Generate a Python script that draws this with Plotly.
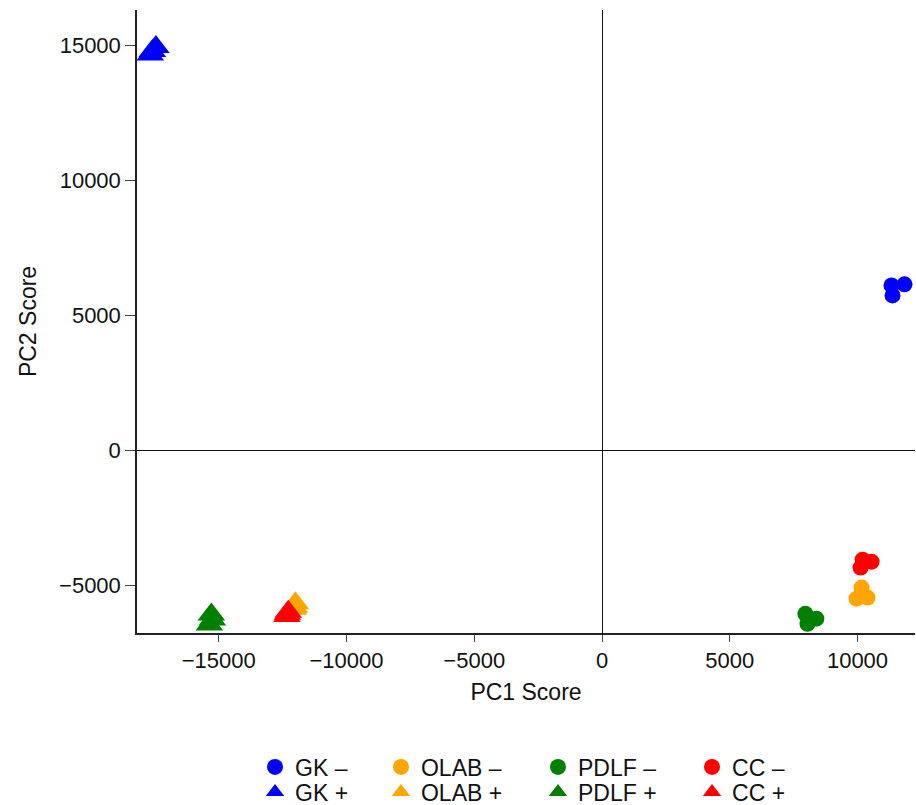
import plotly.graph_objects as go

# ---- data ----
groups = ["GK", "OLAB", "PDLF", "CC"]
colors = ["#0000ff", "#ffa500", "#008000", "#ff0000"]

minus_x = {
    "GK":   [11330, 11840, 11370],
    "OLAB": [10160, 9960, 10390],
    "PDLF": [7960, 8390, 8040],
    "CC":   [10200, 10550, 10120],
}
minus_y = {
    "GK":   [6110, 6150, 5740],
    "OLAB": [-5070, -5480, -5440],
    "PDLF": [-6040, -6220, -6410],
    "CC":   [-4040, -4110, -4330],
}
plus_x = {
    "GK":   [-17680, -17460, -17600],
    "OLAB": [-12040, -12000, -12080],
    "PDLF": [-15290, -15370, -15250],
    "CC":   [-12310, -12330, -12280],
}
plus_y = {
    "GK":   [14650, 14930, 14780],
    "OLAB": [-5780, -5650, -5850],
    "PDLF": [-6070, -6440, -6250],
    "CC":   [-6040, -6120, -5960],
}

x_ticks = [-15000, -10000, -5000, 0, 5000, 10000]
x_tick_labels = ["\u221215000", "\u221210000", "\u22125000", "0", "5000", "10000"]
y_ticks = [-5000, 0, 5000, 10000, 15000]
y_tick_labels = ["\u22125000", "0", "5000", "10000", "15000"]
x_range = [-18200, 12250]
y_range = [-6750, 16300]

col_x = [0.1517, 0.3136, 0.5154, 0.7134]
row_y = [-0.2151, -0.2552]

fig = go.Figure()
n = 0
for g, c, lx in zip(groups, colors, col_x):
    for sign, xs, ys, sym, sz, ly in (
        ("–", minus_x[g], minus_y[g], "circle", 16, row_y[0]),
        ("+", plus_x[g], plus_y[g], "triangle-up", 24, row_y[1]),
    ):
        n += 1
        lid = "legend" if n == 1 else f"legend{n}"
        fig.add_trace(go.Scatter(
            x=xs, y=ys, mode="markers", name=f"{g} {sign}",
            marker=dict(symbol=sym, size=sz, color=c, line=dict(width=0)),
            legend=lid,
        ))
        fig.update_layout({lid: dict(
            x=lx, y=ly, xanchor="left", yanchor="middle",
            orientation="v", bgcolor="rgba(0,0,0,0)",
            font=dict(size=23, color="#111",
                      family="Liberation Sans, Arial, Helvetica, sans-serif"),
            itemclick=False, itemdoubleclick=False,
        )})

font_family = "Liberation Sans, Arial, Helvetica, sans-serif"
axis_common = dict(
    showgrid=False, showline=True, linecolor="#222", linewidth=1.5,
    ticks="outside", tickcolor="#444", tickwidth=1,
    zeroline=True, zerolinecolor="#111", zerolinewidth=1,
    tickfont=dict(size=22, color="#111", family=font_family),
)

fig.update_xaxes(
    range=x_range, tickvals=x_ticks, ticktext=x_tick_labels, ticklen=7, **axis_common,
    title=dict(text="PC1 Score", font=dict(size=23, color="#111"), standoff=12),
)
fig.update_yaxes(
    range=y_range, tickvals=y_ticks, ticktext=y_tick_labels, ticklen=10, **axis_common,
    title=dict(text="PC2 Score", font=dict(size=23, color="#111"), standoff=16),
)

fig.update_layout(
    width=916, height=805,
    margin=dict(l=137, r=1, t=10, b=172, autoexpand=False),
    paper_bgcolor="white", plot_bgcolor="white",
    font=dict(family=font_family, color="#111"),
    showlegend=True,
)

fig.write_html("out.html")
